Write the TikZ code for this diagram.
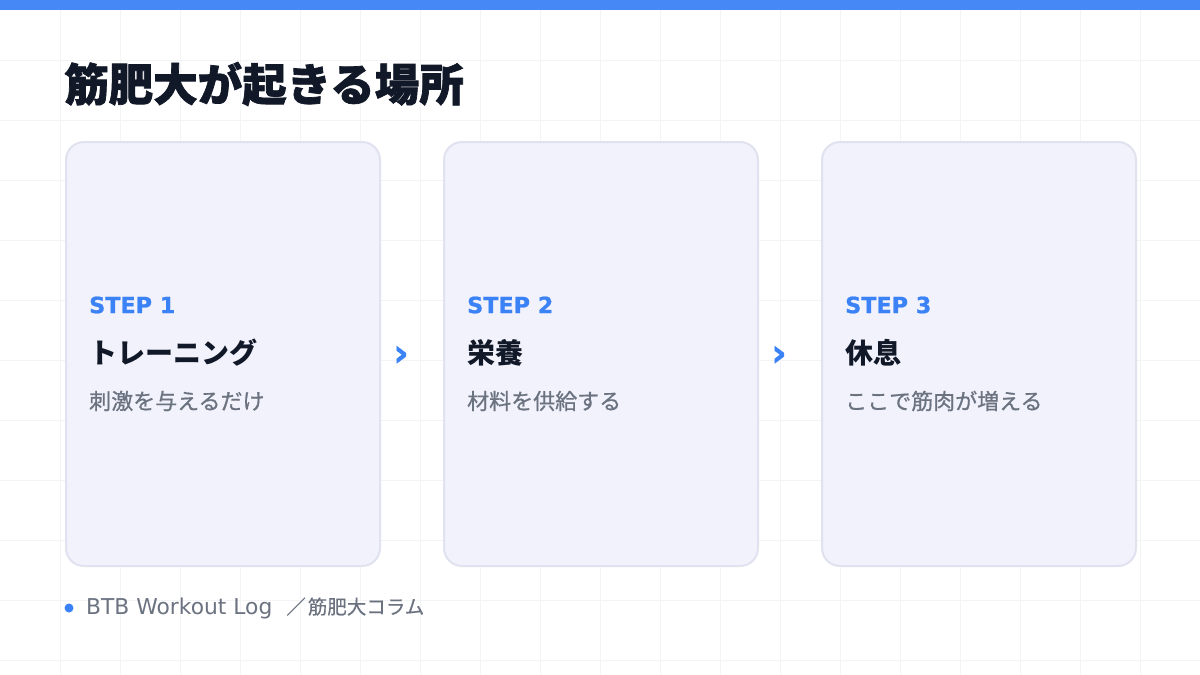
\documentclass[tikz,border=0pt]{standalone}
\usepackage{fontspec}
\setmainfont{Noto Sans CJK JP}
\newfontfamily\latinfont{DejaVu Sans}
\newfontfamily\latinheavy[BoldFeatures={FakeBold=0.9}]{DejaVu Sans}
\newfontfamily\medfont[FakeBold=0.7]{Noto Sans CJK JP}
\newfontfamily\footfont[FakeBold=0.4]{Noto Sans CJK JP}
\newfontfamily\heavyfont[BoldFeatures={FakeBold=1.6}]{Noto Sans CJK JP}
\definecolor{accent}{HTML}{3B82F6}
\definecolor{cardfill}{HTML}{F1F2FB}
\definecolor{cardline}{HTML}{E0E3EF}
\definecolor{ink}{HTML}{111827}
\definecolor{muted}{HTML}{6B7280}
\definecolor{gridc}{HTML}{F3F4F6}
\tikzset{
  card/.style={draw=cardline, fill=cardfill, line width=2pt, rounded corners=18pt},
  steplabel/.style={anchor=west, inner sep=0pt, text=accent, font=\latinheavy\fontsize{22.3}{26}\selectfont\bfseries},
  steptitle/.style={anchor=west, inner sep=0pt, text=ink, font=\fontsize{28}{32}\selectfont\bfseries},
  stepdesc/.style={anchor=west, inner sep=0pt, text=muted, font=\medfont\fontsize{22}{25}\selectfont},
  chev/.style={inner sep=0pt, text=accent, font=\latinheavy\fontsize{38}{40}\selectfont\bfseries},
}
\begin{document}
\begin{tikzpicture}[x=1pt,y=-1pt]
\useasboundingbox (0,0) rectangle (1200,675);
\fill[white] (0,0) rectangle (1200,675);
\foreach \gx in {60,120,...,1140} \draw[gridc, line width=1pt] (\gx,0) -- (\gx,675);
\foreach \gy in {60,120,...,660} \draw[gridc, line width=1pt] (0,\gy) -- (1200,\gy);
\fill[accent!95!white] (0,0) rectangle (1200,10);
\node[anchor=west, inner sep=0pt, text=ink, font=\heavyfont\fontsize{44.5}{48}\selectfont\bfseries] (title) at (64,84) {筋肥大が起きる場所};
% cards
\node[card, minimum width=314pt, minimum height=424pt, anchor=north west] (c1) at (65,141) {};
\node[card, minimum width=314pt, minimum height=424pt, anchor=north west] (c2) at (443,141) {};
\node[card, minimum width=314pt, minimum height=424pt, anchor=north west] (c3) at (821,141) {};
\node[steplabel] (s1) at (89,305) {STEP 1};
\node[steptitle] (t1) at (89,353) {トレーニング};
\node[stepdesc] (d1) at (89,401) {刺激を与えるだけ};
\node[steplabel] (s2) at (467,305) {STEP 2};
\node[steptitle] (t2) at (467,353) {栄養};
\node[stepdesc] (d2) at (467,401) {材料を供給する};
\node[steplabel] (s3) at (845,305) {STEP 3};
\node[steptitle] (t3) at (845,353) {休息};
\node[stepdesc] (d3) at (845,401) {ここで筋肉が増える};
\node[chev] (a1) at (401,356) {›};
\node[chev] (a2) at (779,356) {›};
% footer
\fill[accent] (69,608) circle (4.5pt);
\node[anchor=west, inner sep=0pt, text=muted, font=\footfont\fontsize{19.5}{24}\selectfont] (foot) at (86,608) {{\latinfont\fontsize{21.8}{24}\selectfont BTB Workout Log}\hspace{14pt}／\hspace{2pt}筋肥大コラム};
\end{tikzpicture}
\end{document}
